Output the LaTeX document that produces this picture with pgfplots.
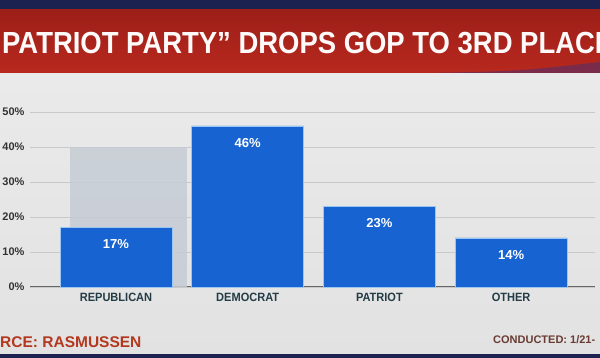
\documentclass[border=0pt]{standalone}
\usepackage{fontspec}
\setmainfont{Liberation Sans}
\newfontfamily\titlefont[FakeStretch=0.9]{Liberation Sans}
\newfontfamily\catfont[FakeStretch=0.92]{Liberation Sans}
\usepackage{pgfplots}
\pgfplotsset{compat=1.18}
\definecolor{navy}{HTML}{1B2250}
\definecolor{banner}{HTML}{B8281E}
\definecolor{bannerdark}{HTML}{9C1F18}
\definecolor{bg}{HTML}{E2E2E2}
\definecolor{bgtop}{HTML}{EAEAEA}
\definecolor{barblue}{HTML}{1763D2}
\definecolor{baredge}{HTML}{9CC6F2}
\definecolor{ghost}{HTML}{C6CCD5}
\definecolor{gridc}{HTML}{C9C9C9}
\definecolor{catcol}{HTML}{233C46}
\definecolor{srccol}{HTML}{B3381F}
\definecolor{condcol}{HTML}{6A3B33}
\definecolor{tickc}{HTML}{333333}
\definecolor{swoosh}{HTML}{4A3070}
\begin{document}
\begin{tikzpicture}[x=1pt,y=1pt]
\useasboundingbox (0,0) rectangle (600,358);
\shade[top color=bgtop,bottom color=bg] (0,0) rectangle (600,285);
\fill[navy] (0,0) rectangle (600,4);
\fill[navy] (0,348) rectangle (600,358);
\shade[top color=bannerdark,bottom color=banner] (0,285) rectangle (600,348);
\fill[swoosh,opacity=0.55] (430,285) .. controls (520,287) .. (600,296) -- (600,285) -- cycle;
\node[anchor=base west,text=white!92!pink,font=\titlefont\bfseries\fontsize{30.5}{31}\selectfont,inner sep=0pt] at (2,304) {\llap{“}PATRIOT PARTY” DROPS GOP TO 3RD PLACE};
\begin{axis}[
  at={(30pt,71pt)}, anchor=south west,
  scale only axis, width=565pt, height=175pt,
  xmin=-0.653, xmax=3.637, ymin=0, ymax=50,
  xtick={0,1,2,3},
  xticklabels={REPUBLICAN,DEMOCRAT,PATRIOT,OTHER},
  ytick={0,10,20,30,40,50},
  yticklabel={\pgfmathprintnumber{\tick}\%},
  /pgf/number format/assume math mode=true,
  ymajorgrids, grid style={gridc,line width=0.8pt},
  extra y ticks={0}, extra y tick labels={},
  extra y tick style={grid style={draw=gray!80!black,line width=1pt}},
  axis line style={draw=none}, tick style={draw=none},
  yticklabel style={font=\bfseries\fontsize{11}{11}\selectfont,text=tickc,xshift=-2pt},
  xticklabel style={font=\catfont\bfseries\fontsize{12}{12}\selectfont,text=catcol,yshift=-3pt},
  clip=false,
]
\addplot[ybar,bar width=117pt,bar shift=12.5pt,fill=ghost,draw=none,fill opacity=0.85] coordinates {(0,40)};
\addplot[ybar,bar width=112pt,bar shift=0pt,fill=barblue,draw=baredge,line width=0.8pt,
  nodes near coords={\pgfmathprintnumber{\pgfplotspointmeta}\%},
  every node near coord/.append style={font=\bfseries\fontsize{13}{13}\selectfont,text=white,anchor=center,yshift=-17pt}]
  coordinates {(0,17) (1,46) (2,23) (3,14)};
\end{axis}
\node[anchor=base west,font=\bfseries\fontsize{15.5}{16}\selectfont,text=srccol,inner sep=0pt] at (0,10) {\llap{SOU}RCE: RASMUSSEN};
\node[anchor=base west,font=\bfseries\fontsize{11}{11}\selectfont,text=condcol,inner sep=0pt] at (493,14) {CONDUCTED: 1/21-};
\end{tikzpicture}
\end{document}
